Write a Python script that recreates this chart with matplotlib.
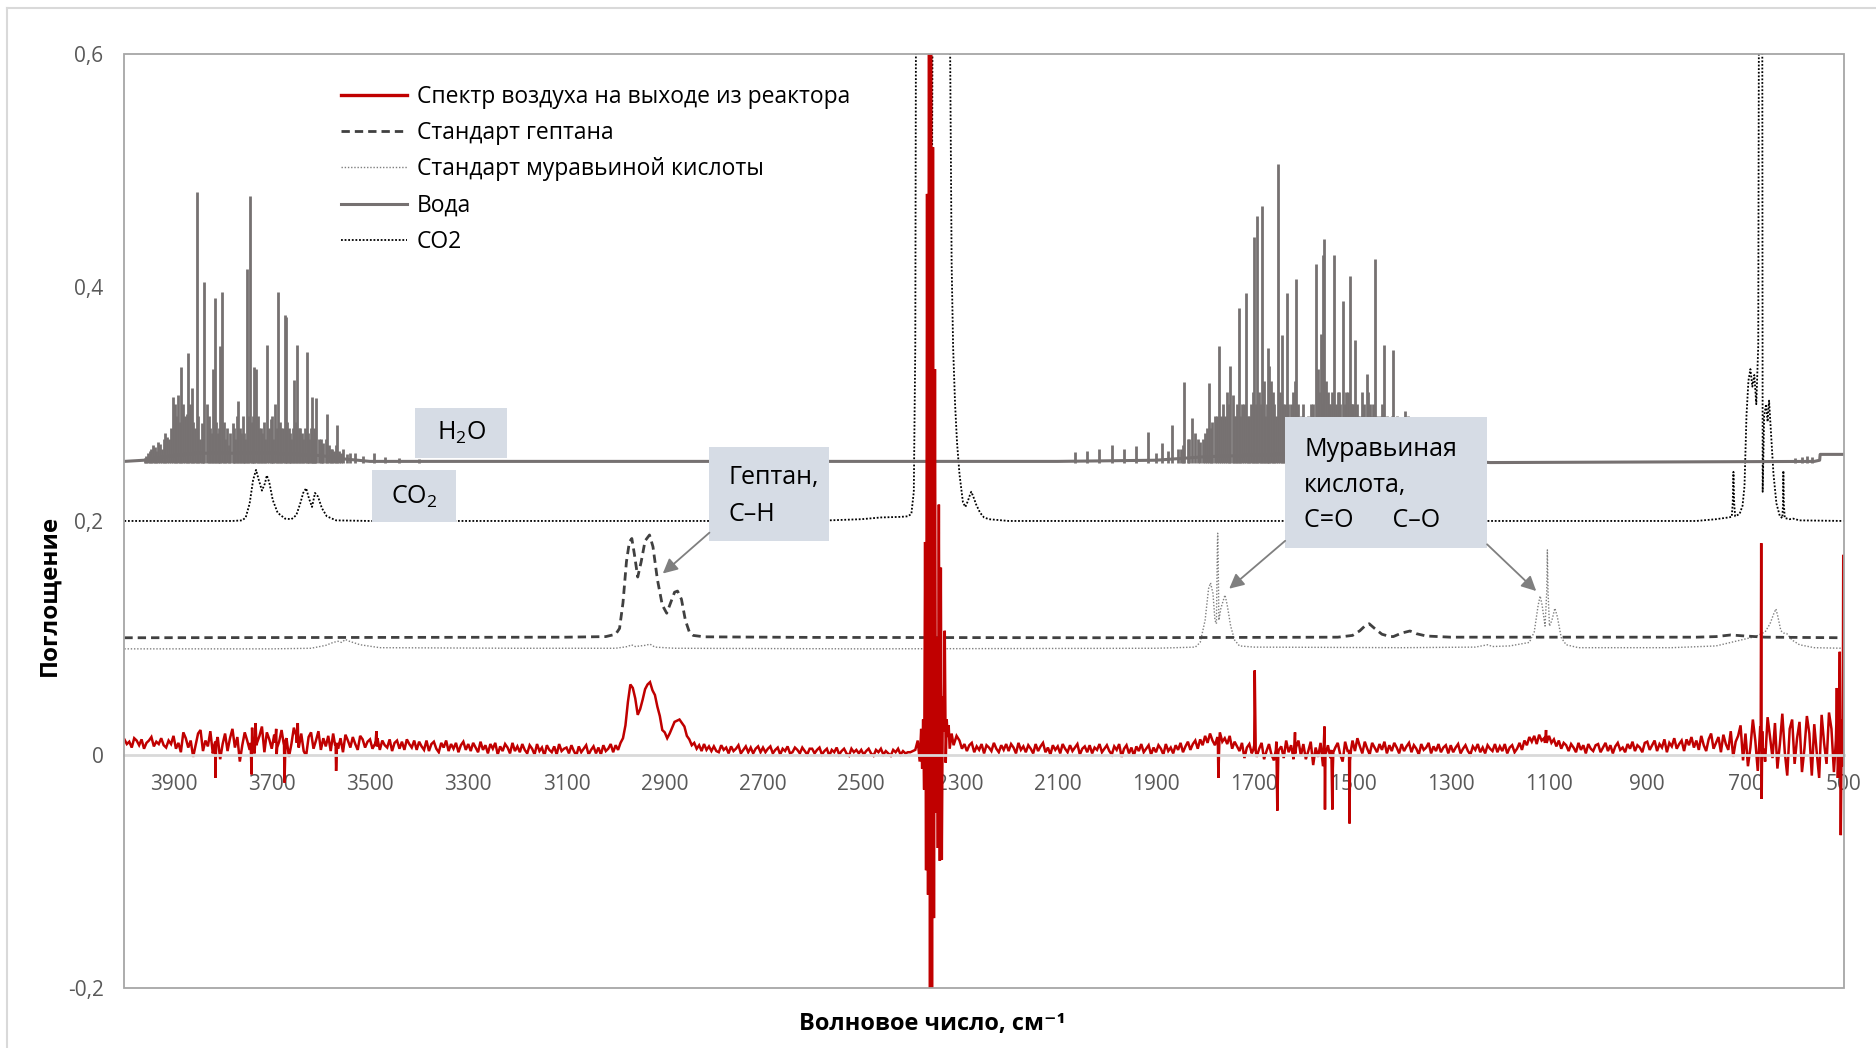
import numpy as np
import matplotlib
matplotlib.use('Agg')
import matplotlib.pyplot as plt
from matplotlib.patches import Rectangle
from matplotlib.lines import Line2D
from matplotlib.ticker import FuncFormatter

plt.rcParams['font.family'] = ['Open Sans', 'DejaVu Sans']
plt.rcParams['mathtext.fontset'] = 'custom'
plt.rcParams['mathtext.rm'] = 'Open Sans'
plt.rcParams['mathtext.it'] = 'Open Sans:italic'
plt.rcParams['mathtext.bf'] = 'Open Sans:bold'

# ---- спектр воздуха на выходе, в 1e-3 ед. поглощения, шаг 5 см-1 ----
# 4000 .. 2400
red_a_mA = [
    13, 9, 11, 6, 14, 12, 8, 13, 5, 10, 12, 15, 7, 11, 9, 14, 8, 6, 12, 9,
    16, 5, 10, 2, 19, 14, 6, 12, -2, 8, 18, 21, 3, 12, 7, 20, 1, 11, 15, -4,
    9, 18, 3, 14, 22, 6, 15, -6, 8, 19, 12, 4, 23, 1, 10, 16, 24, 2, 19, 13,
    5, 17, 0, 11, 21, 8, 14, -2, 9, 23, 16, 6, 18, 3, -1, 15, 19, 5, 12, 20,
    4, 14, 7, 16, 3, 18, 10, 5, 14, 2, 17, 12, 6, 15, 9, 4, 16, 13, 6, 11,
    13, 5, 9, 14, 4, 12, 8, 6, 13, 3, 10, 12, 5, 11, 4, 13, 9, 6, 12, 4,
    11, 7, 4, 12, 3, 9, 11, 5, 2, 10, 6, 12, 3, 9, 5, 10, 2, 8, 11, 4,
    9, 3, 10, 6, 2, 11, 4, 8, 1, 9, 5, 10, 0, 7, 3, 9, 6, 1, 10, 3,
    7, 2, 9, 4, 1, 8, 5, 0, 9, 3, 6, -1, 8, 4, 2, 7, 0, 9, 3, 5,
    6, 1, 8, 3, -1, 7, 2, 5, 8, 0, 4, 7, 1, 6, 0, 8, 3, 5, 9, 2,
    8, 4, 10, 14, 25, 45, 60, 57, 48, 34, 39, 47, 56, 60, 62, 55, 51, 41, 33, 21,
    19, 14, 18, 23, 28, 29, 30, 27, 24, 16, 13, 8, 10, 5, 8, 3, 9, 4, 7, 3,
    7, 3, 2, 8, 4, 6, 1, 7, 3, 5, 8, 1, 4, 7, 2, 6, 1, 5, 7, 2,
    6, 2, 5, 7, 1, 4, 6, 0, 5, 3, 7, 1, 2, 6, 4, 1, 6, 3, 0, 5,
    5, 1, 4, 6, 0, 3, 5, -1, 4, 2, 6, 0, 3, 5, 1, -1, 5, 2, 4, 1,
    4, 0, 3, 5, 1, -1, 4, 2, 5, 0, 3, 1, -1, 4, 2, 5, 0, 3, 1, 2,
    2,
]
# 2300 .. 500
red_c_mA = [
    12, 5, 9, 3, 8, 10, 2, 7, 4, 9, 1, 8, 6, 3, 10, 5, 2, 8, 4, 9,
    3, 9, 6, 1, 10, 4, 7, 2, 8, 5, 1, 9, 3, 7, 10, 2, 6, 0, 8, 4,
    7, 1, 9, 5, 2, 8, 3, 6, 9, 0, 5, 7, 2, 8, 1, 6, 4, 9, 2, 5,
    8, 3, 0, 7, 4, 9, -2, 5, 8, 1, 6, -1, 7, 3, 9, 2, 5, 8, 0, 6,
    2, 8, 5, 0, 9, 3, 6, 1, 8, 4, 10, 2, 7, 11, 4, 9, 12, 5, 13, 8,
    16, 10, 18, 12, 8, 15, 19, 11, 14, 9, 16, 5, 11, 7, 3, 10, -3, 6, 9, 1,
    8, -2, 5, 10, -4, 3, 9, 0, -5, 11, 4, 7, -3, 12, 2, 8, -4, 6, 12, -1,
    9, -4, 3, 11, -9, 6, -2, 10, -10, 4, 8, -3, -12, 6, 10, 0, -6, 11, 3, -5,
    12, 3, 14, 7, 1, 11, 5, 0, 10, 6, 2, 9, 4, 11, 1, 8, 3, 10, 6, 1,
    9, 3, 7, 10, 2, 8, 5, 0, 9, 4, 6, 10, 1, 7, 3, 9, 2, 6, 8, 1,
    8, 2, 6, 9, 1, 5, 8, 3, 0, 7, 4, 9, 2, 6, 1, 8, 5, 3, 9, 2,
    7, 3, 9, 1, 6, 8, 2, 5, 10, 4, 12, 8, 15, 11, 16, 9, 17, 12, 14, 10,
    16, 10, 13, 7, 12, 5, 10, 8, 3, 9, 6, 2, 10, 4, 8, 1, 9, 5, 3, 8,
    9, 2, 6, 10, 3, 8, 1, 7, 10, 4, 6, 2, 9, 5, 11, 3, 8, 6, 2, 10,
    11, 4, 8, 12, 3, 9, 6, 13, 2, 10, 7, 14, 5, 9, 12, 3, 13, 8, 15, 6,
    12, 4, 16, 8, 3, 13, 18, 5, 10, 15, 2, 17, 9, 4, 20, -2, 11, 16, 25, -5,
    18, -10, 6, 30, 12, -14, 24, 3, -6, 32, 15, -3, 27, -12, 9, 35, 2, -18, 22, 30,
    -8, 14, 28, -15, 5, 33, 18, -18, 26, 2, -20, 34, 10, -8, 36, 22, -15, 28, 4, -22,
    165,
]
# область полосы CO2 около 2350 (нескомпенсированный фон)
red_b_x = [2390, 2385, 2381, 2378, 2376, 2374, 2372, 2370, 2368, 2366,
           2364, 2362, 2360, 2358, 2356, 2354, 2352, 2350, 2348, 2346,
           2344, 2342, 2340, 2338, 2336, 2334, 2332, 2330, 2328, 2326,
           2324, 2322, 2320, 2316, 2312, 2306]
red_b_y = [0.004, 0.012, -0.006, 0.022, -0.012, 0.030, -0.030, 0.182, -0.099, 0.48,
           -0.12, 0.75, -0.25, 0.75, -0.25, 0.52, -0.14, 0.33, -0.05, 0.10,
           -0.08, 0.214, -0.091, 0.16, -0.09, 0.05, 0.02, 0.106, -0.007, 0.03,
           0.015, 0.025, 0.005, 0.018, 0.008, 0.016]
# отдельные выбросы
red_spike_x = [3817, 3815, 3813, 3743, 3741, 3739, 3734, 3733, 3731,
               3693, 3691, 3689, 3676, 3674, 3672, 3649, 3647, 3646,
               3571, 3569, 3567, 3489, 3487, 3486, 1774, 1773, 1771,
               1702, 1699, 1697, 1656, 1653, 1651, 1619, 1617, 1616,
               1559, 1557, 1556, 1553, 1543, 1541, 1539, 1507, 1506, 1503,
               1108, 1106, 1104, 669, 668, 667, 666, 663,
               516, 514, 512, 508, 506, 504, 502, 501]
red_spike_y = [0.008, -0.020, 0.010, 0.010, -0.017, 0.011, 0.009, 0.027, 0.008,
               0.010, 0.022, 0.006, 0.010, -0.024, 0.012, 0.010, 0.027, 0.008,
               0.008, -0.014, 0.010, 0.008, 0.020, 0.007, 0.010, -0.020, 0.012,
               0.004, 0.072, 0.003, 0.004, -0.048, 0.002, 0.003, 0.019, 0.001,
               0.002, 0.024, -0.047, 0.003, 0.004, -0.047, 0.002, 0.003, -0.059, 0.004,
               0.010, 0.021, 0.011, 0.010, 0.181, -0.038, 0.020, 0.005,
               0.012, 0.057, -0.020, 0.088, -0.069, 0.030, -0.010, 0.171]

# ---- стандарт гептана ----
heptane_x = [4000, 3100, 3020, 3000, 2992, 2985, 2978, 2972, 2967, 2962, 2955,
             2948, 2940, 2931, 2924, 2915, 2905, 2896, 2888, 2880, 2874, 2866,
             2858, 2850, 2842, 2820, 2600, 2000, 1530, 1500, 1485, 1475, 1466,
             1455, 1440, 1425, 1417, 1400, 1383, 1370, 1350, 1300, 800, 760,
             730, 700, 660, 500]
heptane_y = [0.100, 0.1005, 0.101, 0.103, 0.108, 0.130, 0.165, 0.182, 0.185, 0.172, 0.152,
             0.165, 0.183, 0.188, 0.178, 0.150, 0.128, 0.121, 0.130, 0.139, 0.140, 0.133,
             0.115, 0.105, 0.102, 0.1008, 0.1003, 0.100, 0.1005, 0.102, 0.106, 0.110, 0.112,
             0.108, 0.103, 0.1012, 0.101, 0.104, 0.1058, 0.1035, 0.1015, 0.1005, 0.1005, 0.101,
             0.1024, 0.1015, 0.1005, 0.100]

# ---- стандарт муравьиной кислоты ----
formic_x = [4000, 3700, 3620, 3590, 3575, 3565, 3558, 3550, 3542, 3520, 3480,
            3200, 3000, 2975, 2968, 2960, 2940, 2930, 2920, 2880, 2500, 1900,
            1820, 1810, 1800, 1793, 1789, 1784, 1780, 1777, 1775, 1774.4, 1773.5,
            1772, 1768, 1763, 1759.5, 1755, 1748, 1740, 1730, 1700, 1400, 1250,
            1225, 1215, 1180, 1140, 1130, 1122, 1118, 1114, 1108, 1104.5, 1103.3,
            1102, 1099, 1094, 1088, 1083, 1075, 1065, 1040, 850, 760, 720, 680,
            660, 650, 643, 638, 634, 628, 622, 616, 605, 590, 560, 500]
formic_y = [0.0905, 0.0905, 0.091, 0.0935, 0.096, 0.097, 0.096, 0.0985, 0.097, 0.094, 0.0915,
            0.091, 0.091, 0.0925, 0.094, 0.0925, 0.0935, 0.0945, 0.092, 0.091, 0.0905, 0.091,
            0.092, 0.096, 0.115, 0.142, 0.147, 0.138, 0.115, 0.112, 0.180, 0.1895, 0.170,
            0.115, 0.125, 0.132, 0.1366, 0.128, 0.110, 0.098, 0.093, 0.092, 0.0915, 0.092,
            0.094, 0.0925, 0.093, 0.096, 0.105, 0.128, 0.1358, 0.128, 0.110, 0.140, 0.1752,
            0.140, 0.110, 0.115, 0.1253, 0.118, 0.100, 0.094, 0.0915, 0.0915, 0.093, 0.097, 0.101,
            0.105, 0.112, 0.120, 0.1247, 0.118, 0.106, 0.104, 0.1036, 0.098, 0.094, 0.0915, 0.091]

# ---- вода: базовая линия и вращательные линии ----
water_x = [4000, 3960, 3900, 3850, 3700, 3600, 3550, 3500, 2100, 1900, 1800,
           1650, 1500, 1300, 1220, 560, 549, 548, 500]
water_y = [0.251, 0.252, 0.256, 0.258, 0.258, 0.256, 0.253, 0.251, 0.251, 0.252, 0.255,
           0.257, 0.256, 0.252, 0.250, 0.251, 0.252, 0.257, 0.257]
water_peak_x = [
    3958, 3951, 3945, 3941, 3935, 3931, 3924, 3917, 3910, 3902, 3897, 3890,
    3884, 3877, 3870, 3863, 3857, 3853, 3847, 3843, 3837, 3832, 3825, 3820,
    3816, 3810, 3805, 3801, 3795, 3788, 3779, 3774, 3768, 3763, 3759, 3755,
    3751, 3744, 3739, 3736, 3733, 3726, 3719, 3714, 3710, 3702, 3698, 3693,
    3687, 3681, 3674, 3671, 3664, 3660, 3655, 3648, 3642, 3636, 3629, 3624,
    3619, 3614, 3609, 3600, 3595, 3587, 3580, 3573, 3567, 3560, 3555, 3547,
    3540, 3530, 3515, 3492, 3470, 3440, 3400,
    3955, 3948, 3938, 3928, 3920, 3914, 3906, 3894, 3887, 3880, 3873, 3866,
    3860, 3850, 3840, 3828, 3822, 3813, 3807, 3798, 3791, 3784, 3776, 3771,
    3765, 3757, 3748, 3741, 3729, 3722, 3716, 3706, 3700, 3690, 3684, 3678,
    3668, 3662, 3657, 3651, 3645, 3639, 3633, 3626, 3621, 3616, 3611, 3604,
    3597, 3590, 3584, 3577, 3570, 3563,
    2065, 2041, 2015, 1990, 1966, 1941, 1917, 1900, 1888, 1876, 1868, 1855,
    1842, 1835, 1827, 1820, 1810, 1800, 1792, 1785, 1780, 1771, 1764, 1760,
    1755, 1749, 1744, 1738, 1732, 1725, 1716, 1710, 1706, 1700, 1694, 1684,
    1678, 1672, 1670, 1662, 1656, 1651, 1644, 1638, 1634, 1628, 1622, 1615,
    1605, 1595, 1585, 1575, 1571, 1565, 1560, 1557, 1550, 1545, 1537, 1530,
    1525, 1520, 1513, 1506, 1500, 1495, 1488, 1480, 1471, 1468, 1462, 1455,
    1445, 1435, 1425, 1417, 1405, 1393, 1388, 1375, 1360, 1340, 1320, 1300,
    1280, 1260, 1240, 600, 585, 575, 565,
    1850, 1845, 1832, 1815, 1805, 1796, 1788, 1776, 1767, 1752, 1741, 1735,
    1728, 1720, 1713, 1703, 1697, 1690, 1687, 1681, 1675, 1666, 1659, 1647,
    1641, 1631, 1625, 1618, 1610, 1600, 1590, 1580, 1568, 1562, 1553, 1548,
    1541, 1533, 1527, 1516, 1510, 1503, 1498, 1491, 1484, 1476, 1465, 1458,
    1450, 1440, 1430, 1420, 1410, 1398,
]
water_peak_y = [
    0.254, 0.258, 0.262, 0.265, 0.260, 0.268, 0.262, 0.275, 0.270, 0.306, 0.300, 0.308,
    0.332, 0.290, 0.344, 0.314, 0.280, 0.482, 0.270, 0.284, 0.405, 0.300, 0.280, 0.330,
    0.391, 0.275, 0.350, 0.396, 0.270, 0.265, 0.284, 0.270, 0.303, 0.275, 0.290, 0.270,
    0.416, 0.478, 0.290, 0.332, 0.330, 0.280, 0.275, 0.270, 0.351, 0.287, 0.270, 0.300,
    0.396, 0.280, 0.376, 0.375, 0.280, 0.270, 0.321, 0.351, 0.280, 0.270, 0.345, 0.270,
    0.306, 0.280, 0.305, 0.270, 0.267, 0.292, 0.262, 0.260, 0.282, 0.258, 0.262, 0.257,
    0.258, 0.258, 0.256, 0.258, 0.255, 0.254, 0.253,
    0.256, 0.260, 0.263, 0.266, 0.270, 0.272, 0.280, 0.290, 0.285, 0.300, 0.292, 0.300,
    0.285, 0.290, 0.270, 0.290, 0.275, 0.285, 0.280, 0.285, 0.280, 0.275, 0.280, 0.290,
    0.280, 0.275, 0.290, 0.285, 0.290, 0.280, 0.285, 0.280, 0.290, 0.280, 0.285, 0.280,
    0.285, 0.275, 0.280, 0.285, 0.280, 0.275, 0.280, 0.275, 0.280, 0.270, 0.275, 0.270,
    0.265, 0.270, 0.265, 0.262, 0.265, 0.260,
    0.259, 0.260, 0.262, 0.265, 0.262, 0.264, 0.276, 0.258, 0.267, 0.260, 0.282, 0.262,
    0.319, 0.270, 0.288, 0.275, 0.268, 0.275, 0.318, 0.285, 0.290, 0.350, 0.300, 0.290,
    0.310, 0.333, 0.308, 0.290, 0.382, 0.300, 0.395, 0.290, 0.300, 0.443, 0.461, 0.470,
    0.290, 0.348, 0.333, 0.310, 0.290, 0.506, 0.359, 0.300, 0.395, 0.280, 0.310, 0.407,
    0.290, 0.280, 0.300, 0.420, 0.330, 0.360, 0.428, 0.441, 0.310, 0.300, 0.428, 0.310,
    0.300, 0.388, 0.310, 0.410, 0.300, 0.355, 0.290, 0.310, 0.326, 0.310, 0.290, 0.424,
    0.290, 0.351, 0.285, 0.346, 0.280, 0.294, 0.290, 0.280, 0.275, 0.270, 0.265, 0.270,
    0.260, 0.262, 0.258, 0.254, 0.255, 0.256, 0.255,
    0.262, 0.265, 0.270, 0.270, 0.270, 0.280, 0.280, 0.290, 0.290, 0.300, 0.290, 0.300,
    0.290, 0.300, 0.290, 0.310, 0.300, 0.310, 0.300, 0.320, 0.300, 0.320, 0.300, 0.310,
    0.300, 0.300, 0.300, 0.320, 0.300, 0.300, 0.290, 0.300, 0.310, 0.300, 0.320, 0.300,
    0.310, 0.300, 0.310, 0.300, 0.310, 0.300, 0.300, 0.300, 0.290, 0.300, 0.300, 0.300,
    0.290, 0.300, 0.290, 0.290, 0.290, 0.285,
]

# ---- CO2 ----
co2_x = [4000, 3780, 3760, 3753, 3745, 3738, 3732, 3727, 3720, 3714, 3710, 3705,
         3698, 3688, 3673, 3660, 3650, 3642, 3636, 3630, 3624, 3618, 3612, 3606,
         3598, 3588, 3569, 3500, 2600, 2500, 2460, 2420, 2405, 2398, 2393, 2390,
         2388, 2385, 2370, 2360, 2356, 2352, 2340, 2325, 2319, 2316, 2313, 2309,
         2305, 2300, 2293, 2288, 2283, 2279, 2276, 2272, 2266, 2258, 2250, 2240,
         2200, 800, 760, 735, 728, 726, 724.5, 723, 721, 712, 706, 702, 698, 694,
         690, 686, 682, 678, 674, 670, 667, 665, 662, 658, 655, 652, 648, 643,
         637, 630, 625, 623.5, 622.9, 622, 620, 610, 603, 590, 500]
co2_y = [0.200, 0.200, 0.2005, 0.203, 0.215, 0.235, 0.2437, 0.236, 0.226, 0.232, 0.239, 0.233,
         0.218, 0.207, 0.202, 0.2015, 0.205, 0.215, 0.224, 0.228, 0.219, 0.212, 0.224, 0.221,
         0.211, 0.204, 0.2005, 0.200, 0.200, 0.2015, 0.203, 0.2035, 0.204, 0.206, 0.225, 0.350,
         0.750, 1.000, 1.200, 1.000, 0.470, 1.000, 1.200, 1.000, 0.600, 0.420, 0.349, 0.300,
         0.267, 0.240, 0.216, 0.212, 0.217, 0.222, 0.225, 0.221, 0.214, 0.207, 0.203, 0.2015,
         0.200, 0.200, 0.2015, 0.203, 0.2035, 0.215, 0.242, 0.215, 0.204, 0.206, 0.213, 0.230,
         0.290, 0.320, 0.330, 0.315, 0.325, 0.300, 0.350, 1.200, 1.200, 0.225, 0.290, 0.300,
         0.285, 0.303, 0.275, 0.240, 0.215, 0.204, 0.2025, 0.215, 0.243, 0.215, 0.2025, 0.2015,
         0.202, 0.2005, 0.200]

x_ticks = np.arange(500, 4000, 200)
y_ticks = [-0.2, 0.0, 0.2, 0.4, 0.6]

# сборка кривой воздуха из сетки, участка 2350 и выбросов
red_x = np.concatenate([np.arange(4000, 2399, -5), red_b_x,
                        np.arange(2300, 499, -5), red_spike_x]).astype(float)
red_y = np.concatenate([np.array(red_a_mA) / 1000, red_b_y,
                        np.array(red_c_mA) / 1000, red_spike_y])
order = np.argsort(-red_x, kind='stable')
red_x, red_y = red_x[order], red_y[order]

fig = plt.figure(figsize=(18.76, 10.48), dpi=100)
ax = fig.add_axes([0.0663, 0.0571, 0.9165, 0.8916])

ax.plot(formic_x, formic_y, color='#7F7F7F', lw=1.0, linestyle=(0, (1, 1.3)), zorder=2.0,
        label='Стандарт муравьиной кислоты')
ax.plot(heptane_x, heptane_y, color='#404040', lw=2.0, linestyle=(0, (3, 1.8)), zorder=2.1,
        label='Стандарт гептана')
ax.plot(co2_x, co2_y, color='black', lw=1.3, linestyle=(0, (1, 1)), zorder=2.2, label='CO2')
ax.vlines(water_peak_x, 0.25, water_peak_y, color='#767171', lw=2.0, zorder=2.3)
ax.plot(water_x, water_y, color='#767171', lw=2.2, zorder=2.3, label='Вода')
ax.plot(red_x, red_y, color='#C00000', lw=1.8, solid_joinstyle='miter', zorder=2.5,
        label='Спектр воздуха на выходе из реактора')

ax.set_xlim(4000, 500)
ax.set_ylim(-0.2, 0.6)
ax.set_xticks(x_ticks)
ax.set_yticks(y_ticks)
ax.yaxis.set_major_formatter(FuncFormatter(
    lambda v, p: '0' if abs(v) < 1e-9 else f'{v:.1f}'.replace('.', ',')))
ax.tick_params(length=0, labelsize=15, labelcolor='#595959')
ax.tick_params(axis='x', pad=14)
ax.tick_params(axis='y', pad=15)

for s in ['top', 'left', 'right']:
    ax.spines[s].set_visible(False)
ax.spines['bottom'].set_position(('data', 0))
ax.spines['bottom'].set_color('#D9D9D9')
ax.spines['bottom'].set_linewidth(2.0)
ax.add_patch(Rectangle((0, 0), 1, 1, transform=ax.transAxes, fill=False,
                       edgecolor='#A6A6A6', lw=1.3, clip_on=False, zorder=4))

ax.set_ylabel('Поглощение', fontsize=17.5, fontweight='bold', color='black')
ax.yaxis.set_label_coords(-0.0365, 0.42)
ax.set_xlabel('Волновое число, см⁻¹', fontsize=17, fontweight='bold', color='black')
ax.xaxis.set_label_coords(0.47, -0.025)

# подписи полос в плашках
box_color = '#D6DCE5'
def label_box(x0, x1, y0, y1):
    ax.add_patch(Rectangle((x1, y0), x0 - x1, y1 - y0, facecolor=box_color,
                           edgecolor='none', zorder=3))

label_box(3408, 3221, 0.2538, 0.2968)
ax.text(3314, 0.2750, 'H$_2$O', ha='center', va='center', fontsize=18, zorder=3.5)
label_box(3496, 3325, 0.1995, 0.2435)
ax.text(3410, 0.2210, 'CO$_2$', ha='center', va='center', fontsize=18, zorder=3.5)
label_box(2809, 2565, 0.183, 0.263)
ax.text(2770, 0.2213, 'Гептан,\nC–H', ha='left', va='center', fontsize=18,
        linespacing=1.6, zorder=3.5)
label_box(1637, 1226, 0.1769, 0.2886)
ax.text(1598, 0.2305, 'Муравьиная\nкислота,\nC=O      C–O', ha='left', va='center',
        fontsize=18, linespacing=1.55, zorder=3.5)

arrow = dict(arrowstyle='-|>', color='#7F7F7F', lw=1.3, mutation_scale=22,
             shrinkA=0, shrinkB=0)
ax.annotate('', xy=(2904, 0.155), xytext=(2809, 0.19), arrowprops=arrow, zorder=3.5)
ax.annotate('', xy=(1751, 0.142), xytext=(1637, 0.183), arrowprops=arrow, zorder=3.5)
ax.annotate('', xy=(1126, 0.140), xytext=(1226, 0.180), arrowprops=arrow, zorder=3.5)

handles, labels = ax.get_legend_handles_labels()
by_label = dict(zip(labels, handles))
legend_order = ['Спектр воздуха на выходе из реактора', 'Стандарт гептана',
                'Стандарт муравьиной кислоты', 'Вода', 'CO2']
leg = ax.legend([by_label[k] for k in legend_order], legend_order, loc='upper left',
                bbox_to_anchor=(0.126, 0.967), frameon=False, fontsize=16.5,
                handlelength=2.9, handletextpad=0.4, labelspacing=0.54,
                borderpad=0, borderaxespad=0)
leg.get_lines()[0].set_linewidth(2.4)

# рамка области диаграммы
fig.add_artist(Line2D([7 / 1876, 1.0], [1 - 8 / 1048, 1 - 8 / 1048], color='#D9D9D9', lw=1.5))
fig.add_artist(Line2D([7 / 1876, 7 / 1876], [0.0, 1 - 8 / 1048], color='#D9D9D9', lw=1.5))

fig.savefig('out.png', dpi=100)
